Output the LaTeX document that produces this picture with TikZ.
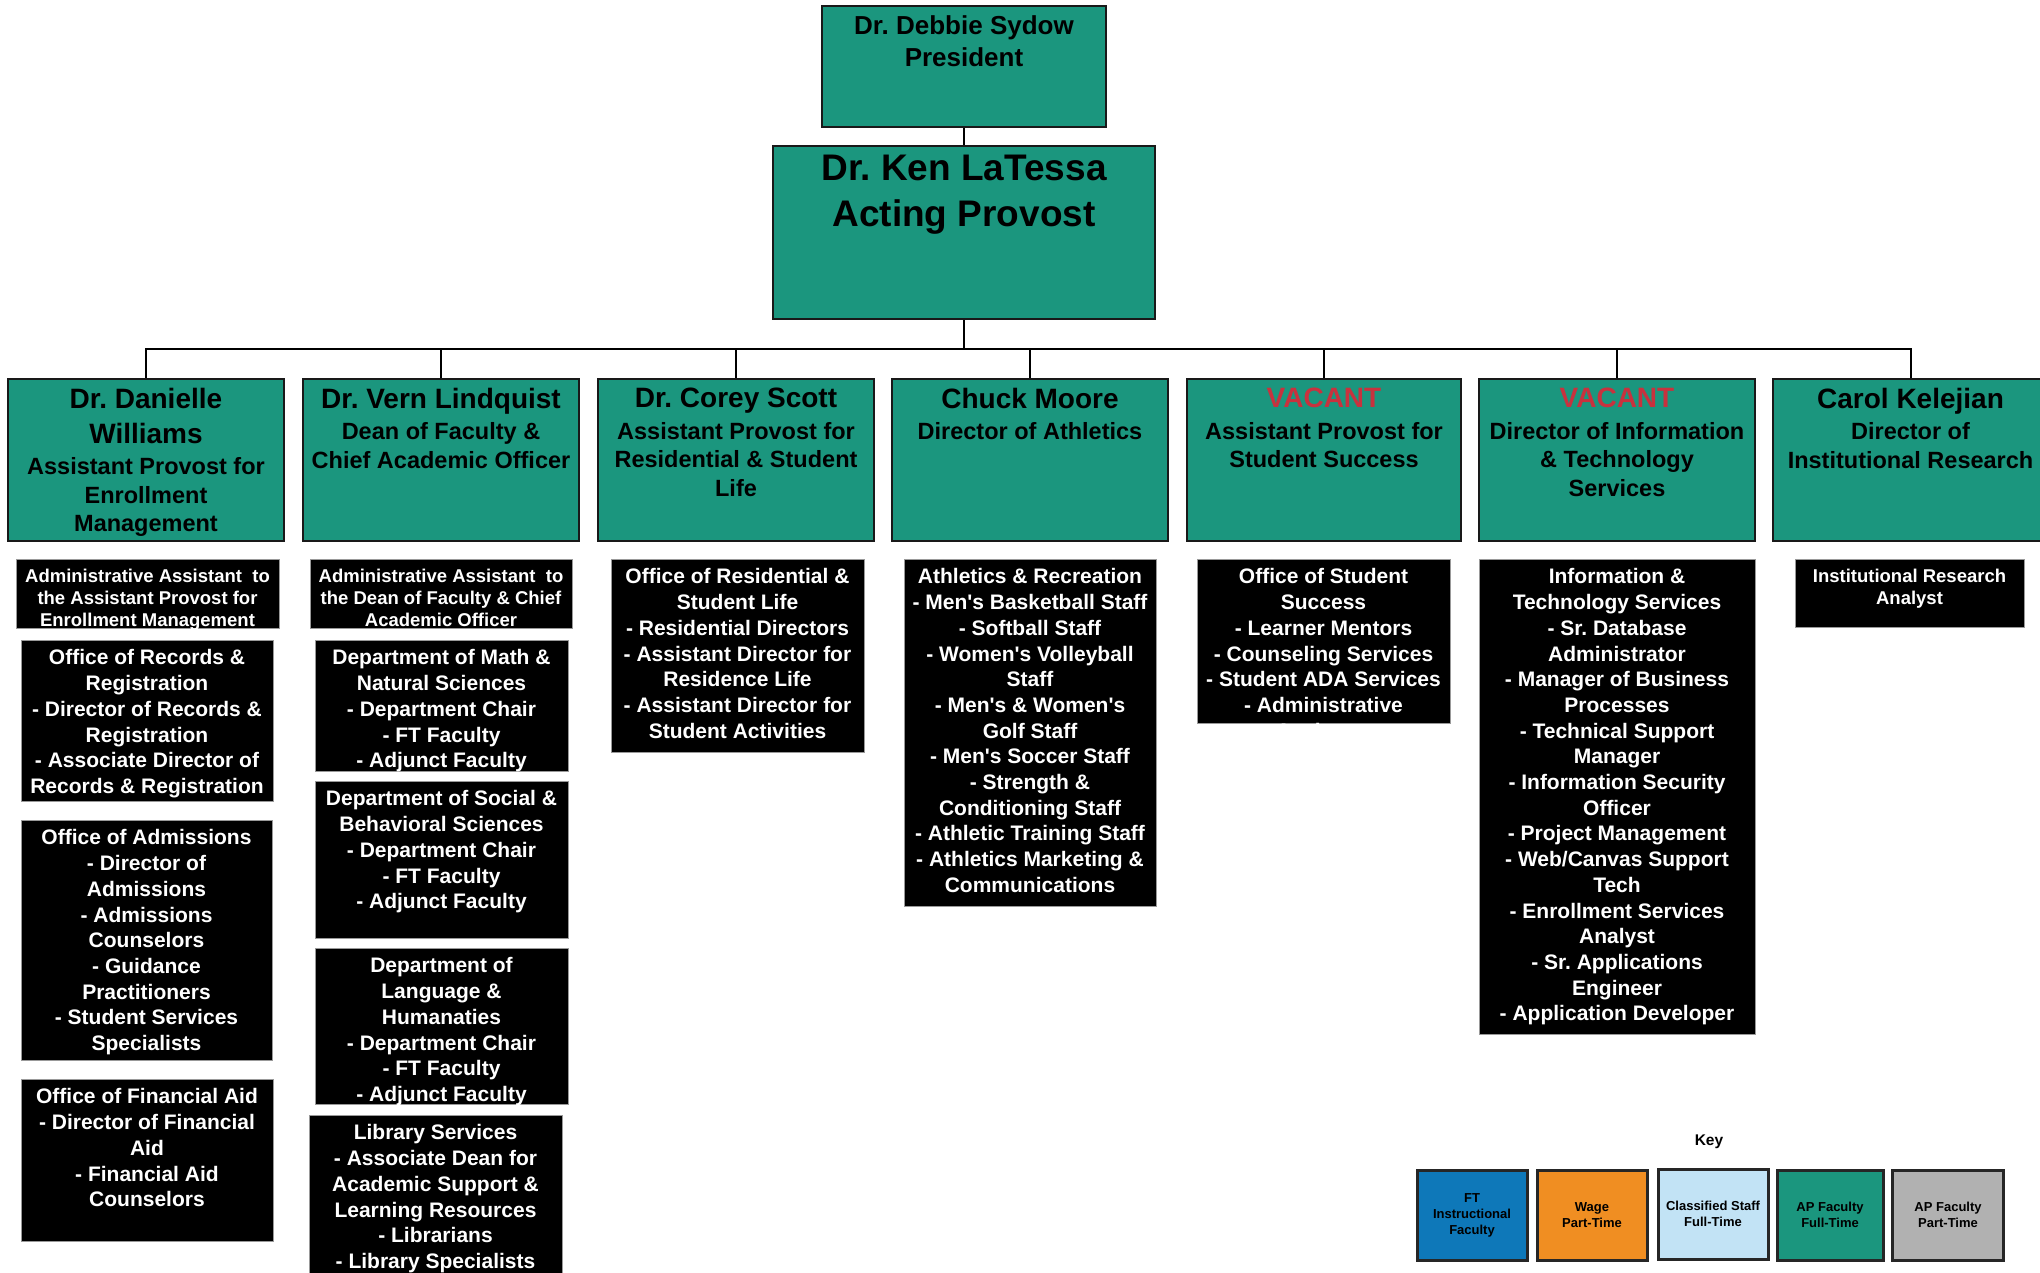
\documentclass[tikz,border=0pt]{standalone}
\usepackage{fontspec}
\setmainfont{Liberation Sans}[Ligatures=TeXOff]
\definecolor{tealc}{HTML}{1B967E}
\definecolor{vacred}{HTML}{C8323E}
\definecolor{kblue}{HTML}{0E78B9}
\definecolor{korange}{HTML}{F08E22}
\definecolor{klight}{HTML}{C2E3F5}
\definecolor{kgray}{HTML}{B1B1B1}
\newcommand\fixsp{\spaceskip=0.278em\xspaceskip=0.278em\relax}
\newcommand\nmf{\fontsize{28}{35}\selectfont\fixsp}
\newcommand\tlf{\fontsize{23.5}{28.5}\selectfont\fixsp}
\newcommand\bkf{\fontsize{21}{25.7}\selectfont\fixsp}
\newcommand\smf{\fontsize{18.5}{22.3}\selectfont\fixsp}
\newcommand\aps{\symbol{39}}
\tikzset{
  tealbox/.style={draw=black!90, line width=2.5pt, fill=tealc, inner sep=0pt},
  blkbox/.style={draw=black!40, line width=1pt, fill=black, inner sep=0pt},
  keybox/.style={draw=black!85, line width=3pt, inner sep=0pt, align=center,
     font=\bfseries\fontsize{13}{16}\selectfont\fixsp},
  conn/.style={line width=2pt, draw=black},
}
% #1 name, #2 style, #3 x1, #4 y1, #5 x2, #6 y2, #7 text, #8 top pad
\newcommand\mkbox[8]{%
  \node[#2, minimum width={#5-#3}, minimum height={#6-#4}] (#1) at ({(#3+#5)/2},{(#4+#6)/2}) {};
  \begin{scope}
    \clip (#1.south west) rectangle (#1.north east);
    \node[anchor=north, inner sep=0pt, align=center, text width={#5-#3+30},
      font=\bfseries] (#1-t) at ([yshift=-#8]#1.north) {#7\par};
  \end{scope}
}
\begin{document}
\begin{tikzpicture}[x=1pt,y=-1pt]
\fill[white] (0,0) rectangle (2040,1273);
\useasboundingbox (0,0) rectangle (2040,1273);

% top
\mkbox{pres}{tealbox}{822}{6}{1106}{127}{\fontsize{26}{32.5}\selectfont\fixsp Dr. Debbie Sydow\\President}{10.5pt}
\mkbox{prov}{tealbox}{773}{146}{1155}{319}{\fontsize{37}{46}\selectfont\fixsp Dr. Ken LaTessa\\Acting Provost}{10pt}

% VP row
\mkbox{vp1}{tealbox}{8}{379}{284}{541}{{\nmf Dr. Danielle\\Williams\par}\vspace{3pt}{\tlf Assistant Provost for\\Enrollment\\Management\par}}{10pt}
\mkbox{vp2}{tealbox}{303}{379}{579}{541}{{\nmf Dr. Vern Lindquist\par}\vspace{3pt}{\tlf Dean of Faculty \&\\Chief Academic Officer\par}}{10pt}
\mkbox{vp3}{tealbox}{598}{379}{874}{541}{{\nmf Dr. Corey Scott\par}\vspace{3pt}{\tlf Assistant Provost for\\Residential \& Student\\Life\par}}{10pt}
\mkbox{vp4}{tealbox}{892}{379}{1168}{541}{{\nmf Chuck Moore\par}\vspace{3pt}{\tlf Director of Athletics\par}}{10pt}
\mkbox{vp5}{tealbox}{1187}{379}{1461}{541}{{\nmf\color{vacred} VACANT\par}\vspace{3pt}{\tlf Assistant Provost for\\Student Success\par}}{10pt}
\mkbox{vp6}{tealbox}{1479}{379}{1755}{541}{{\nmf\color{vacred} VACANT\par}\vspace{3pt}{\tlf Director of Information\\\& Technology\\Services\par}}{10pt}
\mkbox{vp7}{tealbox}{1773}{379}{2048}{541}{{\nmf Carol Kelejian\par}\vspace{3pt}{\tlf Director of\\Institutional Research\par}}{10pt}

% connectors
\coordinate (bus) at (964,349);
\draw[conn] (pres.south) -- (prov.north);
\draw[conn] (prov.south) -- (bus);
\foreach \v in {vp1,vp2,vp3,vp4,vp5,vp6,vp7}{\draw[conn] (bus) -| (\v.north);}

% column 1
\mkbox{c1a}{blkbox}{16}{559}{279}{628}{\color{white}\smf Administrative Assistant\ \ to\\the Assistant Provost for\\Enrollment Management}{10pt}
\mkbox{c1b}{blkbox}{21}{640}{273}{801}{\color{white}\bkf Office of Records \&\\Registration\\- Director of Records \&\\Registration\\- Associate Director of\\Records \& Registration}{10pt}
\mkbox{c1c}{blkbox}{21}{820}{272}{1060}{\color{white}\bkf Office of Admissions\\- Director of\\Admissions\\- Admissions\\Counselors\\- Guidance\\Practitioners\\- Student Services\\Specialists}{10pt}
\mkbox{c1d}{blkbox}{21}{1079}{273}{1241}{\color{white}\bkf Office of Financial Aid\\- Director of Financial\\Aid\\- Financial Aid\\Counselors}{10pt}

% column 2
\mkbox{c2a}{blkbox}{310}{559}{572}{628}{\color{white}\smf Administrative Assistant\ \ to\\the Dean of Faculty \& Chief\\Academic Officer}{10pt}
\mkbox{c2b}{blkbox}{315}{640}{568}{771}{\color{white}\bkf Department of Math \&\\Natural Sciences\\- Department Chair\\- FT Faculty\\- Adjunct Faculty}{10pt}
\mkbox{c2c}{blkbox}{315}{781}{568}{938}{\color{white}\bkf Department of Social \&\\Behavioral Sciences\\- Department Chair\\- FT Faculty\\- Adjunct Faculty}{10pt}
\mkbox{c2d}{blkbox}{315}{948}{568}{1104}{\color{white}\bkf Department of\\Language \&\\Humanaties\\- Department Chair\\- FT Faculty\\- Adjunct Faculty}{10pt}
\mkbox{c2e}{blkbox}{309}{1115}{562}{1290}{\color{white}\bkf Library Services\\- Associate Dean for\\Academic Support \&\\Learning Resources\\- Librarians\\- Library Specialists}{10pt}

% column 3
\mkbox{c3a}{blkbox}{611}{559}{864}{752}{\color{white}\bkf Office of Residential \&\\Student Life\\- Residential Directors\\- Assistant Director for\\Residence Life\\- Assistant Director for\\Student Activities}{10pt}

% column 4
\mkbox{c4a}{blkbox}{904}{559}{1156}{906}{\color{white}\bkf Athletics \& Recreation\\- Men\aps s Basketball Staff\\- Softball Staff\\- Women\aps s Volleyball\\Staff\\- Men\aps s \& Women\aps s\\Golf Staff\\- Men\aps s Soccer Staff\\- Strength \&\\Conditioning Staff\\- Athletic Training Staff\\- Athletics Marketing \&\\Communications}{10pt}

% column 5
\mkbox{c5a}{blkbox}{1197}{559}{1450}{723}{\color{white}\bkf Office of Student\\Success\\- Learner Mentors\\- Counseling Services\\- Student ADA Services\\- Administrative\\Assistant}{10pt}

% column 6
\mkbox{c6a}{blkbox}{1479}{559}{1755}{1034}{\color{white}\bkf Information \&\\Technology Services\\- Sr. Database\\Administrator\\- Manager of Business\\Processes\\- Technical Support\\Manager\\- Information Security\\Officer\\- Project Management\\- Web/Canvas Support\\Tech\\- Enrollment Services\\Analyst\\- Sr. Applications\\Engineer\\- Application Developer}{10pt}

% column 7
\mkbox{c7a}{blkbox}{1795}{559}{2024}{627}{\color{white}\smf Institutional Research\\Analyst}{10pt}

% key
\node[font=\bfseries\fontsize{15.5}{18}\selectfont, inner sep=0pt] (keyt) at (1709,1142) {Key};
\node[keybox, fill=kblue, minimum width=110, minimum height=90] (k1) at (1472,1215) {FT\\Instructional\\Faculty};
\node[keybox, fill=korange, minimum width=110, minimum height=90] (k2) at (1592,1215) {Wage\\Part-Time};
\node[keybox, fill=klight, minimum width=110, minimum height=90] (k3) at (1713,1214) {Classified Staff\\Full-Time};
\node[keybox, fill=tealc, minimum width=106, minimum height=90] (k4) at (1830,1215) {AP Faculty\\Full-Time};
\node[keybox, fill=kgray, minimum width=111, minimum height=90] (k5) at (1948,1215) {AP Faculty\\Part-Time};
\end{tikzpicture}
\end{document}
